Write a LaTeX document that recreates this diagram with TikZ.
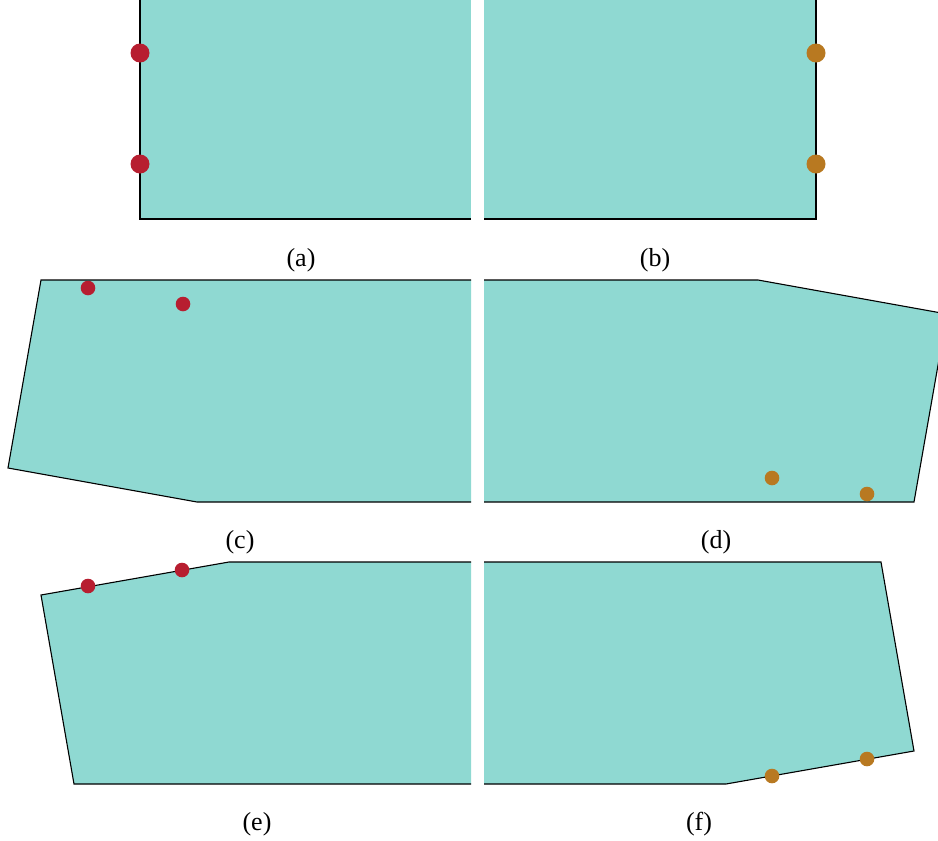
\documentclass[tikz,border=0pt]{standalone}
\usepackage{fontspec}
\setmainfont{Liberation Serif}
\usepackage{tikz}
\definecolor{tealfill}{RGB}{143,217,210}
\definecolor{reddot}{RGB}{183,30,48}
\definecolor{orangedot}{RGB}{184,121,33}
\tikzset{
  panel/.style={fill=tealfill},
  edge/.style={draw=black, line width=1.1pt},
  rdot/.style={fill=reddot},
  odot/.style={fill=orangedot},
  caption/.style={font=\fontsize{26}{30}\selectfont}
}

\begin{document}
\begin{tikzpicture}[x=1pt,y=-1pt]
\clip (0,0) rectangle (938,841);
\useasboundingbox (0,0) rectangle (938,841);
% top row
\fill[panel] (140,0) rectangle (471,219);
\draw[edge] (140,0) -- (140,219) -- (471,219);
\fill[panel] (484,0) rectangle (816,219);
\draw[edge] (484,219) -- (816,219) -- (816,0);
\fill[rdot] (140,53) circle (9.5);
\fill[rdot] (140,164) circle (9.5);
\fill[odot] (816,53) circle (9.5);
\fill[odot] (816,164) circle (9.5);
\node[caption] (la) at (301,260) {(a)};
\node[caption] (lb) at (655,260) {(b)};
% middle row
\fill[panel] (471,280) -- (41,280) -- (8,468) -- (197,502) -- (471,502) -- cycle;
\draw[edge] (471,280) -- (41,280) -- (8,468) -- (197,502) -- (471,502);
\fill[panel] (484,280) -- (758,280) -- (947,314) -- (914,502) -- (484,502) -- cycle;
\draw[edge] (484,280) -- (758,280) -- (947,314) -- (914,502) -- (484,502);
\fill[rdot] (88,288) circle (7.3);
\fill[rdot] (183,304) circle (7.3);
\fill[odot] (772,478) circle (7.3);
\fill[odot] (867,494) circle (7.3);
\node[caption] (lc) at (240,542) {(c)};
\node[caption] (ld) at (716,542) {(d)};
% bottom row
\fill[panel] (471,562) -- (229,562) -- (41,595) -- (74,784) -- (471,784) -- cycle;
\draw[edge] (471,562) -- (229,562) -- (41,595) -- (74,784) -- (471,784);
\fill[panel] (484,562) -- (881,562) -- (914,751) -- (726,784) -- (484,784) -- cycle;
\draw[edge] (484,562) -- (881,562) -- (914,751) -- (726,784) -- (484,784);
\fill[rdot] (88,586) circle (7.3);
\fill[rdot] (182,570) circle (7.3);
\fill[odot] (772,776) circle (7.3);
\fill[odot] (867,759) circle (7.3);
\node[caption] (le) at (257,824) {(e)};
\node[caption] (lf) at (699,824) {(f)};
\end{tikzpicture}
\end{document}
